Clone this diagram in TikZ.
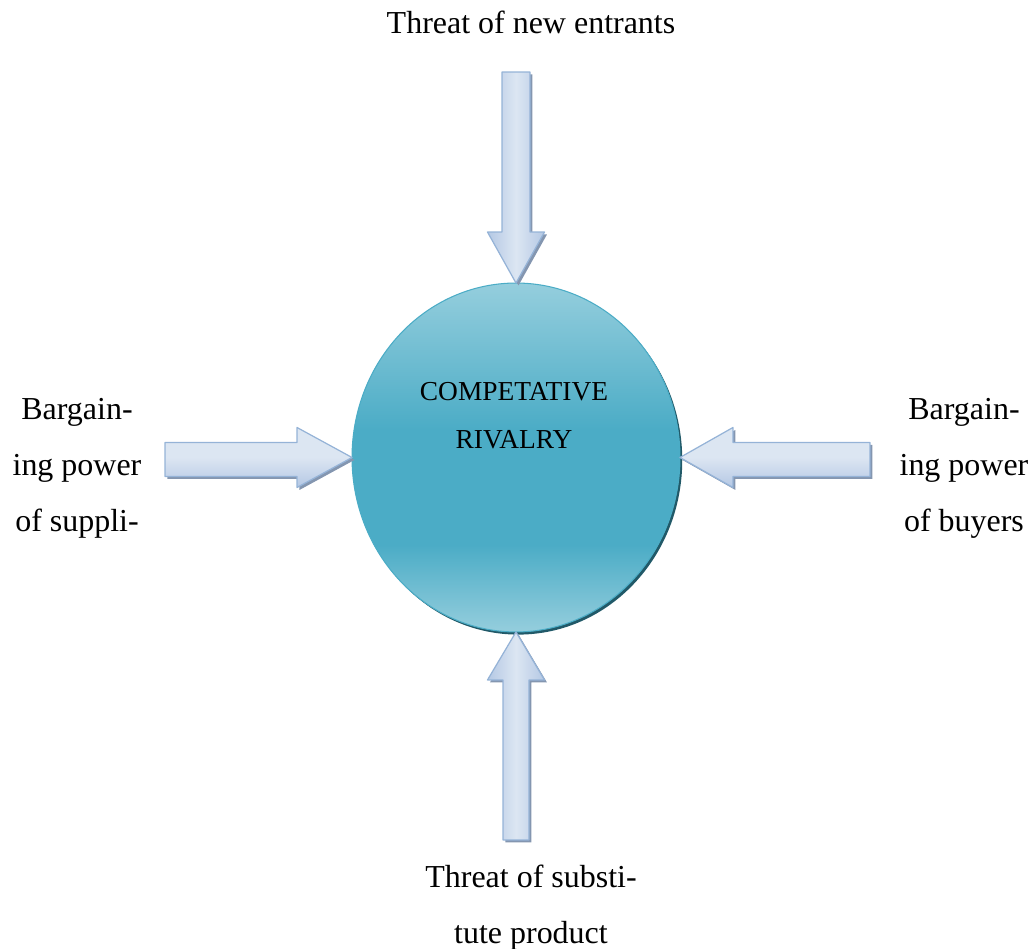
\documentclass[tikz,border=0pt]{standalone}
\usepackage{fontspec}
\setmainfont{Liberation Serif}
\usetikzlibrary{shapes,shadows}

\definecolor{tealmid}{HTML}{4BACC6}
\definecolor{teallight}{HTML}{95CEDD}
\definecolor{tealdark}{HTML}{215968}
\definecolor{arrowlight}{HTML}{DCE6F2}
\definecolor{arrowmid}{HTML}{B4C8E4}
\definecolor{arrowline}{HTML}{95B3D7}
\definecolor{arrowshade}{HTML}{8496B0}

\pgfdeclareverticalshading{rivalshade}{100bp}{color(0bp)=(teallight); color(25bp)=(teallight);
  color(37.5bp)=(tealmid); color(54bp)=(tealmid); color(75bp)=(teallight); color(100bp)=(teallight)}

\begin{document}
\begin{tikzpicture}
  [
    x=0.02cm, y=0.02cm,
    force/.style = {font=\fontsize{18.2}{31.9}\selectfont, align=center, inner sep=0pt},
    rival/.style = {ellipse, draw=tealmid, line width=0.6pt, outer sep=0pt, shading=rivalshade,
                    minimum width=6.56cm, minimum height=6.98cm,
                    drop shadow={shadow xshift=1.3pt, shadow yshift=-1.5pt, fill=tealdark, opacity=1}},
    fatv/.style  = {draw=arrowline, line width=0.7pt, line join=round,
                    left color=arrowmid, right color=arrowmid, middle color=arrowlight,
                    drop shadow={shadow xshift=1.4pt, shadow yshift=-1.4pt, fill=arrowshade, opacity=1}},
    fath/.style  = {draw=arrowline, line width=0.7pt, line join=round,
                    top color=arrowlight, bottom color=arrowmid, middle color=arrowlight,
                    drop shadow={shadow xshift=1.4pt, shadow yshift=-1.4pt, fill=arrowshade, opacity=1}},
  ]

%Page frame
\useasboundingbox (0,0) rectangle (1036,-949);

%The rivalry ellipse
\node[rival] (rival) at (516,-457.5) {};
\node[font=\fontsize{15.6}{27.3}\selectfont, align=center, inner sep=0pt] (rivaltext) at (514,-416) {COMPETATIVE\\RIVALRY};

%The four forces
\node[force] (entrants) at (531,-22) {Threat of new entrants};
\node[force] (suppliers) at (77,-468) {Bargain-\\ing power\\of suppli-};
\node[force] (buyers) at (964,-468) {Bargain-\\ing power\\of buyers};
\node[force] (substitutes) at (531,-908) {Threat of substi-\\tute product};

%Block arrows, drawn from the tip on the ellipse
\draw[fatv] (rival.north) -- ++(28.5,51) -- ++(-14.5,0) -- ++(0,160) -- ++(-28,0)
            -- ++(0,-160) -- ++(-14.5,0) -- cycle;
\draw[fatv] (rival.south) -- ++(28.5,-48) -- ++(-15.5,0) -- ++(0,-160) -- ++(-26,0)
            -- ++(0,160) -- ++(-15.5,0) -- cycle;
\draw[fath] (rival.west) -- ++(-55,30) -- ++(0,-15) -- ++(-132,0) -- ++(0,-34)
            -- ++(132,0) -- ++(0,-11) -- cycle;
\draw[fath] (rival.east) -- ++(53,30) -- ++(0,-15) -- ++(137,0) -- ++(0,-34)
            -- ++(-137,0) -- ++(0,-11) -- cycle;
\end{tikzpicture}
\end{document}
